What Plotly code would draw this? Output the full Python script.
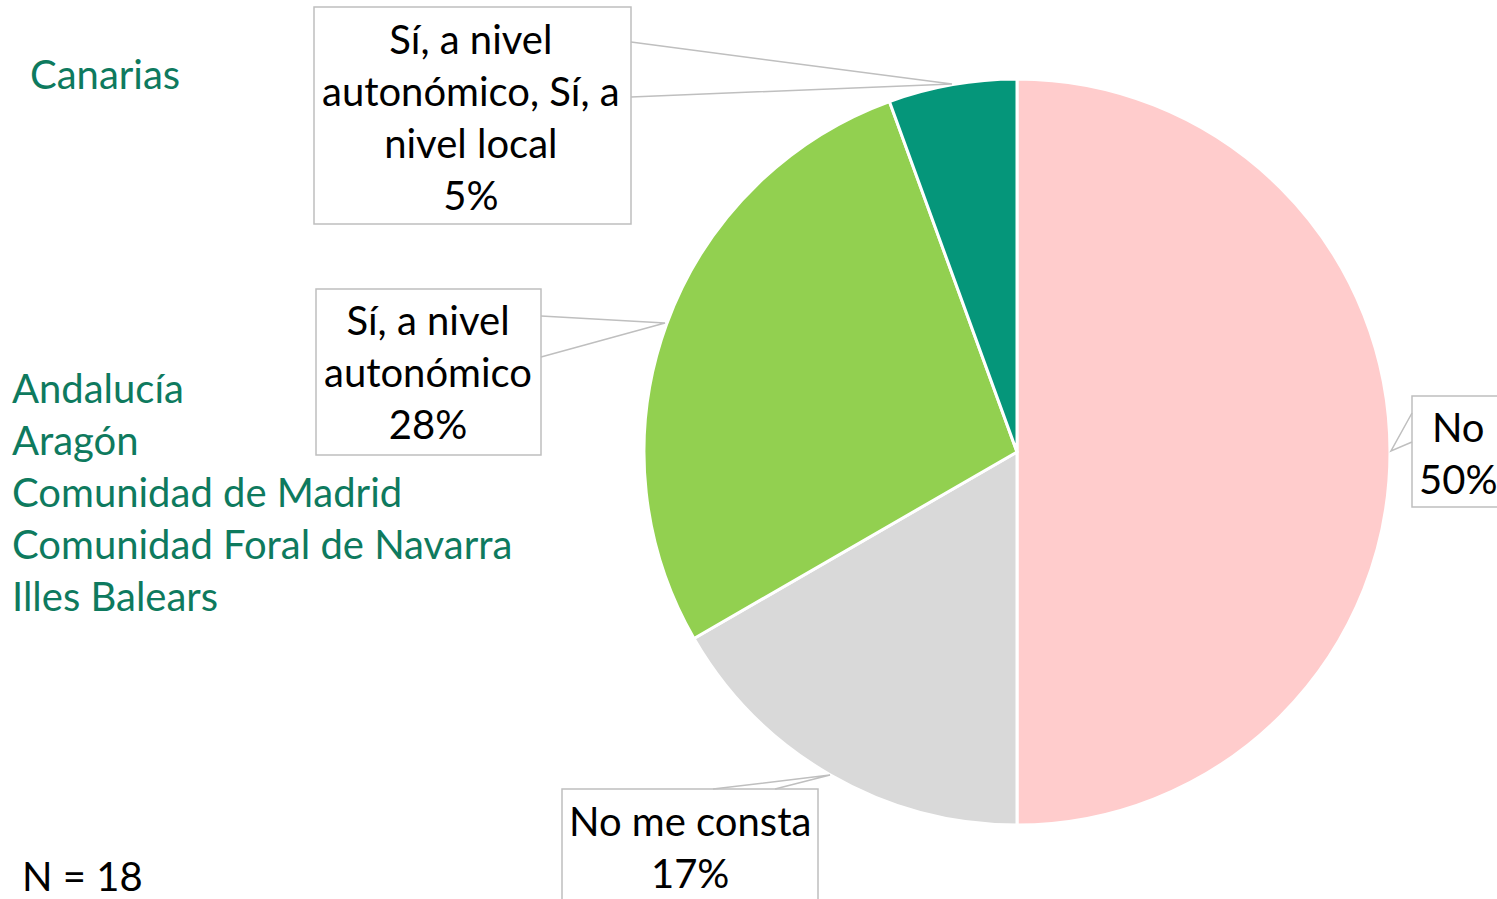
import plotly.graph_objects as go

W, H = 1497, 899

# Data
labels = ["No", "No me consta", "Sí, a nivel autonómico", "Sí, a nivel autonómico, Sí, a nivel local"]
values = [9, 3, 5, 1]
pct_labels = ["50%", "17%", "28%", "5%"]
colors = ["#FFCCCC", "#D9D9D9", "#92D050", "#05967A"]
box_texts = ["No", "No me consta", "Sí, a nivel<br>autonómico", "Sí, a nivel<br>autonómico, Sí, a<br>nivel local"]
region_top = ["Canarias"]
region_mid = ["Andalucía", "Aragón", "Comunidad de Madrid", "Comunidad Foral de Navarra", "Illes Balears"]
n_text = "N = 18"

FONT = "Lato"
FS = 40
TEAL_TXT = "#0E7A5E"
BOX_LINE = "#BFBFBF"

def px(x):
    return x / W

def py(y):
    return 1 - y / H

cx, cy, r = 1017, 452, 373

fig = go.Figure(go.Pie(
    labels=labels, values=values, sort=False, direction="clockwise", rotation=0,
    marker=dict(colors=colors, line=dict(color="white", width=3)),
    textinfo="none", showlegend=False,
    domain=dict(x=[px(cx - r), px(cx + r)], y=[py(cy + r), py(cy - r)]),
))

shapes = []
annots = []

def callout(box, pts, text, tx, ty):
    x0, y0, x1, y1 = box
    shapes.append(dict(type="rect", xref="paper", yref="paper",
                       x0=px(x0), x1=px(x1), y0=py(y1), y1=py(y0),
                       line=dict(color=BOX_LINE, width=1.5), fillcolor="white"))
    path = "M {} {} L {} {} L {} {}".format(px(pts[0][0]), py(pts[0][1]), px(pts[1][0]), py(pts[1][1]),
                                            px(pts[2][0]), py(pts[2][1]))
    shapes.append(dict(type="path", xref="paper", yref="paper", path=path,
                       line=dict(color=BOX_LINE, width=1.5)))
    annots.append(dict(xref="paper", yref="paper", x=px(tx), y=py(ty), text=text,
                       showarrow=False, xanchor="center", yanchor="middle", align="center",
                       font=dict(family=FONT, size=FS, color="black")))

callout((314, 7, 631, 224), [(631, 42), (952, 84), (631, 97)],
        box_texts[3] + "<br>" + pct_labels[3], 471, 117)
callout((316, 289, 541, 455), [(541, 316), (665, 323), (541, 357)],
        box_texts[2] + "<br>" + pct_labels[2], 428, 372)
callout((1412, 396, 1510, 507), [(1412, 413), (1391, 451), (1412, 442)],
        box_texts[0] + "<br>" + pct_labels[0], 1458, 453)
callout((562, 789, 818, 920), [(713, 789), (830, 775), (775, 789)],
        box_texts[1] + "<br>" + pct_labels[1], 690, 847)

annots.append(dict(xref="paper", yref="paper", x=px(28), y=py(74), text="<br>".join(region_top),
                   showarrow=False, xanchor="left", yanchor="middle", align="left",
                   font=dict(family=FONT, size=FS, color=TEAL_TXT)))
annots.append(dict(xref="paper", yref="paper", x=px(10), y=py(492), text="<br>".join(region_mid),
                   showarrow=False, xanchor="left", yanchor="middle", align="left",
                   font=dict(family=FONT, size=FS, color=TEAL_TXT)))
annots.append(dict(xref="paper", yref="paper", x=px(20), y=py(876), text=n_text,
                   showarrow=False, xanchor="left", yanchor="middle", align="left",
                   font=dict(family=FONT, size=FS, color="black")))

fig.update_layout(width=W, height=H, margin=dict(l=0, r=0, t=0, b=0),
                  paper_bgcolor="white", plot_bgcolor="white",
                  shapes=shapes, annotations=annots)

fig.write_html("out.html", config={"displayModeBar": False},
               post_script="document.body.style.margin='0';document.body.style.overflow='hidden';")
